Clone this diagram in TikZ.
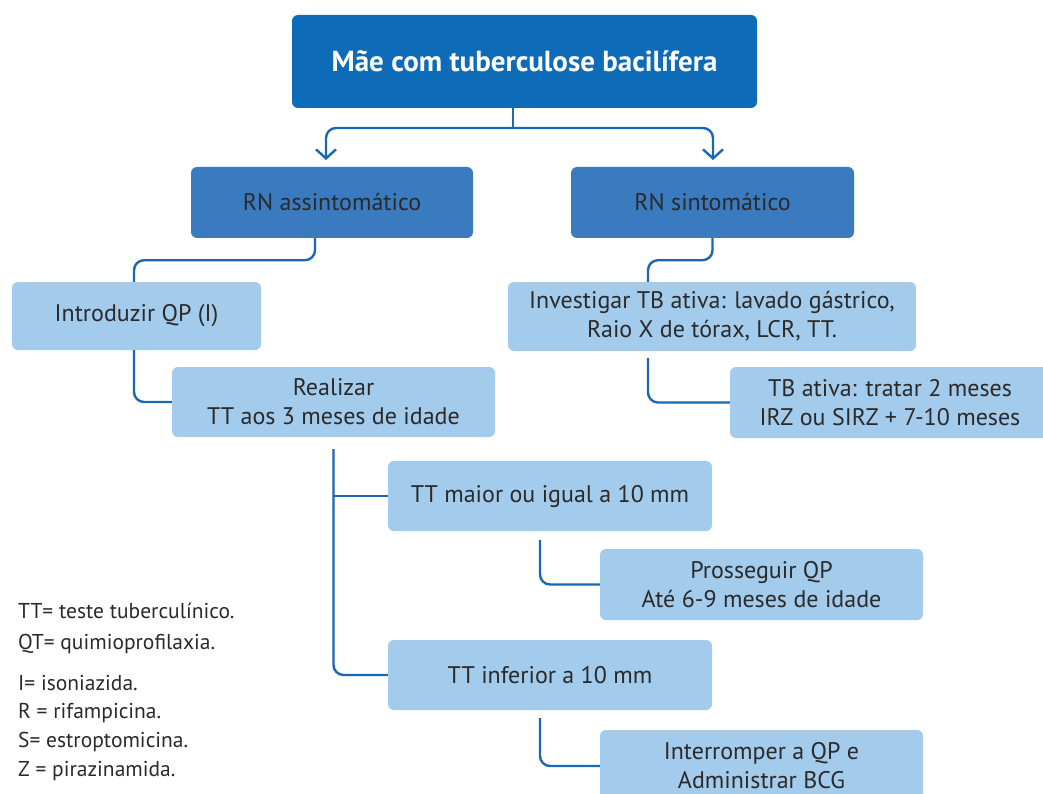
\documentclass[tikz,border=0pt]{standalone}
\usepackage{fontspec}
\setmainfont{PT Sans}
\usetikzlibrary{arrows.meta}
\definecolor{cTitle}{HTML}{0E6BB7}
\definecolor{cMid}{HTML}{3A7BC0}
\definecolor{cLight}{HTML}{A3CBEC}
\definecolor{cLine}{HTML}{1A68B4}
\definecolor{cText}{HTML}{2A2A2A}
\tikzset{
  box/.style={rounded corners=6pt, inner sep=0pt, align=center, text=cText,
    font=\fontsize{24}{29}\selectfont},
  titlebox/.style={box, fill=cTitle, text=white, font=\fontsize{29}{32}\selectfont\bfseries},
  midbox/.style={box, fill=cMid},
  lightbox/.style={box, fill=cLight},
  conn/.style={draw=cLine, line width=2.4pt, rounded corners=10pt},
  arr/.style={conn, -{Straight Barb[length=9pt,width=20pt]}},
  legend/.style={anchor=west, inner sep=0pt, text=cText, font=\fontsize{21.5}{24}\selectfont}
}
\begin{document}
\begin{tikzpicture}[x=1pt,y=-1pt]
\clip (0,0) rectangle (1043,794);
\fill[white] (0,0) rectangle (1043,794);

\node[titlebox, minimum width=465pt, minimum height=93pt] (title) at (524.5,61.5) {Mãe com tuberculose bacilífera};
\node[midbox, minimum width=282pt, minimum height=71pt] (rna) at (332,202.5) {RN assintomático};
\node[midbox, minimum width=283pt, minimum height=71pt] (rns) at (712.5,202.5) {RN sintomático};
\node[lightbox, minimum width=249pt, minimum height=68pt] (intro) at (136.5,316) {Introduzir QP (I)};
\node[lightbox, minimum width=408pt, minimum height=69pt] (inv) at (712,316.5) {Investigar TB ativa: lavado gástrico,\\Raio X de tórax, LCR, TT.};
\node[lightbox, minimum width=323pt, minimum height=70pt] (real) at (333.5,402) {Realizar\\TT aos 3 meses de idade};
\node[lightbox, minimum width=320pt, minimum height=71pt] (tba) at (890,402.5) {TB ativa: tratar 2 meses\\IRZ ou SIRZ + 7-10 meses};
\node[lightbox, minimum width=324pt, minimum height=70pt] (ttm) at (550,496) {TT maior ou igual a 10 mm};
\node[lightbox, minimum width=323pt, minimum height=71pt] (pros) at (761.5,584.5) {Prosseguir QP\\Até 6-9 meses de idade};
\node[lightbox, minimum width=324pt, minimum height=70pt] (tti) at (550,675) {TT inferior a 10 mm};
\node[lightbox, minimum width=323pt, minimum height=72pt] (intr) at (761.5,766) {Interromper a QP e\\Administrar BCG};

% top split
\coordinate (j1) at (513,128);
\coordinate (a1) at (326,160);
\coordinate (a2) at (713,160);
\draw[conn] (title.south -| j1) -- (j1);
\draw[arr] (j1) -| (a1);
\draw[arr] (j1) -| (a2);

% left branch
\draw[conn] ([xshift=-17pt]rna.south) -- ++(0,22) -| ([xshift=-2.5pt]intro.north);
\draw[conn] ([xshift=-2.5pt]intro.south) |- (real.west);
\draw[conn] ([yshift=-12pt]real.south) |- (tti.west);
\draw[conn] (real.south |- ttm.west) -- (ttm.west);
\draw[conn] ([xshift=-10pt,yshift=-9pt]ttm.south) |- (pros.west);
\draw[conn] ([xshift=-10pt,yshift=-8pt]tti.south) |- (intr.west);

% right branch
\draw[conn] (rns.south) -- ++(0,22) -| ([xshift=-64pt]inv.north);
\draw[conn] ([xshift=-64pt,yshift=-7pt]inv.south) |- (tba.west);

% legend
\node[legend] (l1) at (18,611) {TT= teste tuberculínico.};
\node[legend] (l2) at (18,644) {QT= quimioprofilaxia.};
\node[legend] (l3) at (18,683) {I= isoniazida.};
\node[legend] (l4) at (18,713) {R = rifampicina.};
\node[legend] (l5) at (18,742) {S= estroptomicina.};
\node[legend] (l6) at (18,771) {Z = pirazinamida.};
\end{tikzpicture}
\end{document}
